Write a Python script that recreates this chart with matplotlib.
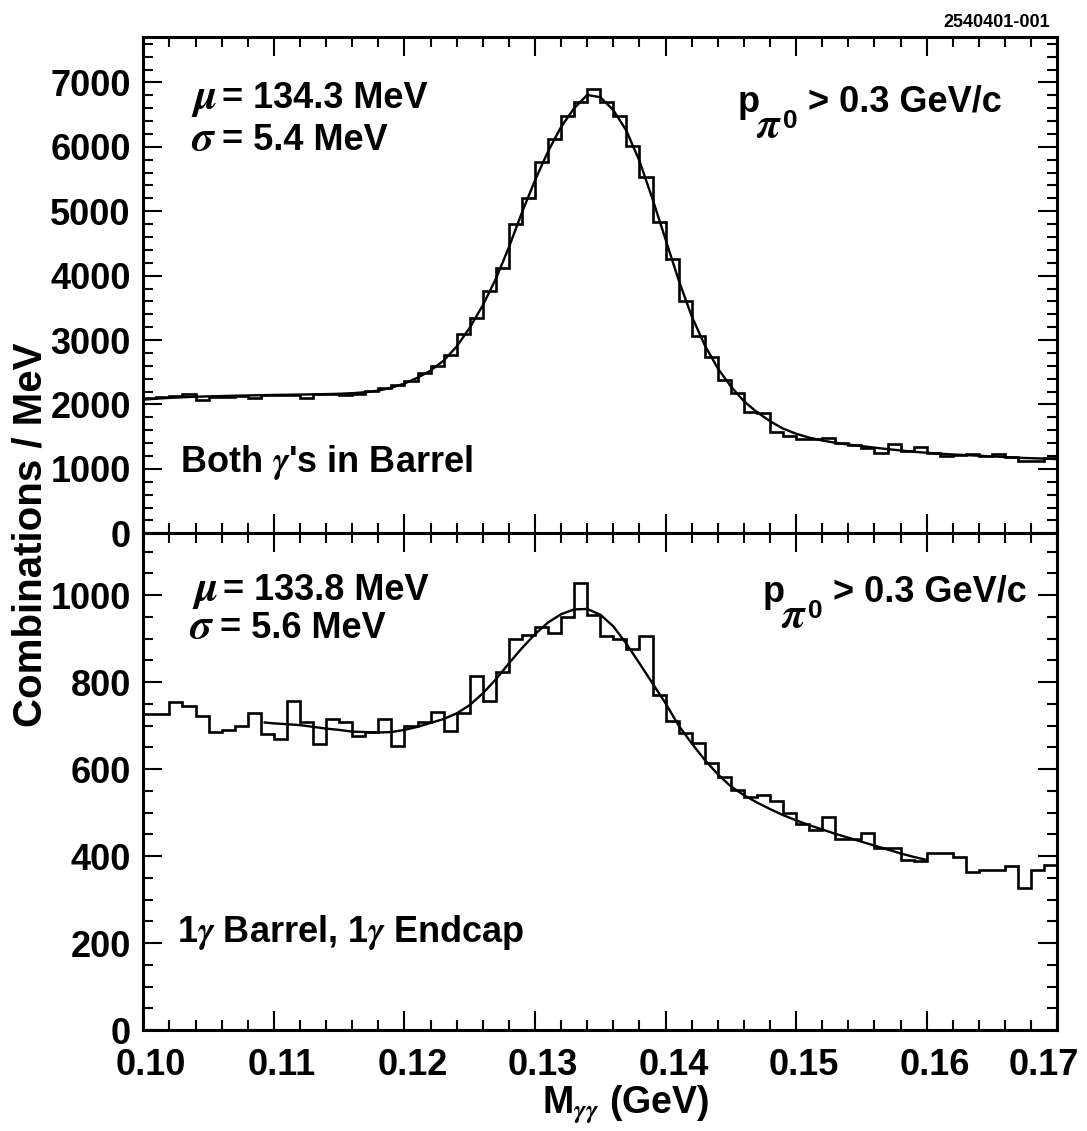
import numpy as np
import matplotlib
matplotlib.use("Agg")
import matplotlib.pyplot as plt
import matplotlib.transforms as mtransforms
from matplotlib.ticker import MultipleLocator, FormatStrFormatter

plt.rcParams['font.family'] = ['Liberation Sans', 'DejaVu Sans']
plt.rcParams['font.weight'] = 'bold'
plt.rcParams['mathtext.fontset'] = 'stix'

# 1 MeV bins from 0.100 to 0.170 GeV
bin_lo, bin_hi = 0.100, 0.170
edges = np.linspace(bin_lo, bin_hi, 71)

# both photons in the barrel (combinations / MeV)
barrel_counts = [
    2095, 2115, 2130, 2170, 2070, 2115, 2120, 2125, 2095, 2145,
    2150, 2150, 2105, 2160, 2165, 2145, 2155, 2210, 2255, 2300,
    2365, 2495, 2590, 2770, 3100, 3340, 3755, 4125, 4795, 5205,
    5760, 6120, 6485, 6690, 6905, 6693, 6486, 6020, 5530, 4830,
    4265, 3607, 3070, 2740, 2377, 2171, 1886, 1860, 1570, 1512,
    1465, 1470, 1480, 1400, 1370, 1318, 1240, 1385, 1280, 1333,
    1240, 1207, 1212, 1230, 1195, 1235, 1178, 1127, 1127, 1165,
]

# one photon in barrel, one in endcap
endcap_counts = [
    726, 726, 755, 746, 722, 686, 690, 699, 728, 680,
    670, 756, 707, 657, 716, 709, 676, 686, 714, 653,
    699, 707, 730, 688, 728, 814, 757, 824, 900, 908,
    927, 912, 950, 1028, 954, 906, 900, 877, 906, 770,
    711, 684, 660, 613, 581, 552, 536, 540, 527, 498,
    474, 460, 490, 438, 438, 452, 418, 418, 391, 389,
    408, 406, 398, 364, 369, 369, 377, 326, 368, 379,
]

# fit curves (x in MeV)
barrel_fit_x = list(range(100, 171))
barrel_fit_y = [
    2075, 2090, 2102, 2112, 2120, 2126, 2131, 2136, 2140, 2144,
    2148, 2151, 2154, 2157, 2161, 2166, 2175, 2190, 2215, 2260,
    2325, 2415, 2525, 2680, 2900, 3190, 3540, 3950, 4440, 4980,
    5480, 5930, 6310, 6600, 6805, 6770, 6570, 6250, 5780, 5190,
    4560, 3930, 3370, 2920, 2560, 2280, 2050, 1880, 1740, 1625,
    1545, 1485, 1440, 1406, 1378, 1354, 1330, 1307, 1286, 1266,
    1250, 1235, 1224, 1214, 1204, 1194, 1184, 1173, 1166, 1159,
    1152,
]

endcap_fit_x = [109.3] + list(range(110, 161))
endcap_fit_y = [
    707, 705, 703, 701, 697, 693, 690, 686, 685, 684,
    685, 690, 697, 706, 715, 728, 747, 774, 806, 843,
    878, 910, 937, 956, 967, 968, 955, 928, 888, 843,
    797, 751, 700, 659, 621, 588, 560, 540, 523, 508,
    494, 482, 471, 461, 451, 442, 433, 424, 415, 406,
    398, 391,
]

W, H = 1087, 1131
fig = plt.figure(figsize=(W / 100, H / 100), dpi=100)
ax1 = fig.add_axes([143.3 / W, 1 - 533.3 / H, 914 / W, 496 / H])
ax2 = fig.add_axes([143.3 / W, 1 - 1030 / H, 914 / W, 496.7 / H])


def style(ax, ymax, ymajor, yminor):
    ax.set_xlim(bin_lo, bin_hi)
    ax.set_ylim(0, ymax)
    ax.xaxis.set_major_locator(MultipleLocator(0.01))
    ax.xaxis.set_minor_locator(MultipleLocator(0.002))
    ax.yaxis.set_major_locator(MultipleLocator(ymajor))
    ax.yaxis.set_minor_locator(MultipleLocator(yminor))
    ax.tick_params(which='both', direction='in', top=True, right=True, width=1.5)
    ax.tick_params(which='major', length=14, labelsize=26, pad=9)
    ax.tick_params(which='minor', length=7)
    for s in ax.spines.values():
        s.set_linewidth(2.2)


style(ax1, 7700, 1000, 200)
style(ax2, 1142, 200, 50)
ax1.tick_params(labelbottom=False)
ax2.xaxis.set_major_formatter(FormatStrFormatter('%.2f'))
ax2.tick_params(axis='x', pad=13, labelsize=26)

for ax, counts, fx, fy in [(ax1, barrel_counts, barrel_fit_x, barrel_fit_y),
                           (ax2, endcap_counts, endcap_fit_x, endcap_fit_y)]:
    ax.stairs(counts, edges, baseline=None, color='black', lw=1.9)
    ax.plot(np.array(fx) / 1000.0, fy, color='black', lw=1.7)


def ftext(x, y, s, size=26, **kw):
    fig.text(x / W, 1 - y / H, s, fontsize=size, fontweight='bold',
             va='baseline', **kw)


def greek_line(x, y, letter, rest):
    # big Symbol-like greek letter followed by the value
    ftext(x, y, letter, size=31)
    ftext(x + 31, y, rest)


def pcut(x, y):
    # p_{pi^0} > 0.3 GeV/c
    ftext(x, y, "p")
    ftext(x + 18, y + 25, r"$\pi$", size=30)
    ftext(x + 45, y + 16, "0", size=19)
    ftext(x + 70, y, "> 0.3 GeV/c")


greek_line(191, 108, r"$\mu$", "= 134.3 MeV")
greek_line(191, 150, r"$\sigma$", "= 5.4 MeV")
ftext(180, 472, r"Both $\gamma$'s in Barrel")
pcut(738, 112)

greek_line(192, 600, r"$\mu$", "= 133.8 MeV")
greek_line(189, 638, r"$\sigma$", "= 5.6 MeV")
ftext(177, 942, r"1$\gamma$ Barrel, 1$\gamma$ Endcap")
pcut(763, 602)

ftext(1050, 27, "2540401-001", size=13, ha='right')
fig.text(626 / W, 1 - 1113 / H, r"M$_{\gamma\gamma}$ (GeV)", fontsize=27,
         fontweight='bold', ha='center', va='baseline')
fig.text(31 / W, 1 - 535 / H, "Combinations / MeV", fontsize=29,
         fontweight='bold', rotation=90, ha='center', va='center')

# nudge x tick labels like the original (last one kept inside the frame)
fig.canvas.draw()
for t in ax2.xaxis.get_major_ticks():
    dx = -13 if abs(t.get_loc() - bin_hi) < 1e-6 else 8
    off = mtransforms.ScaledTranslation(dx / 100, 0, fig.dpi_scale_trans)
    t.label1.set_transform(t.label1.get_transform() + off)

fig.savefig("out.png", dpi=100)
